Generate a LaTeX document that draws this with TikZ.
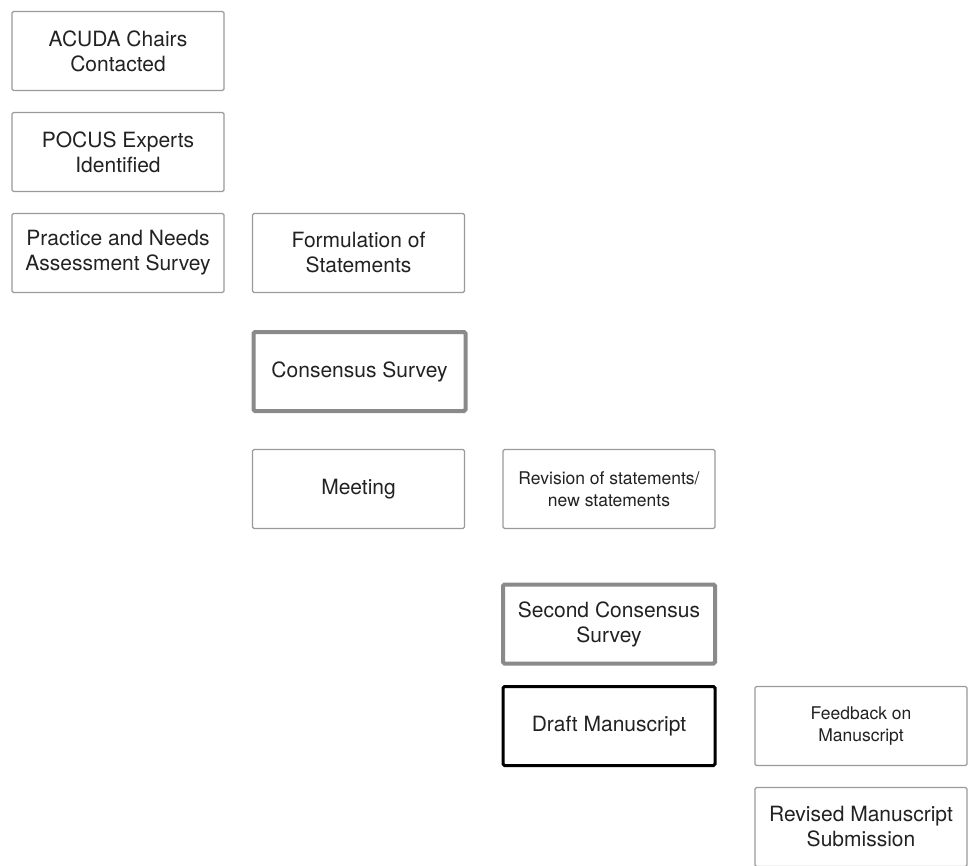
\documentclass[tikz,border=0pt]{standalone}
\usepackage{fontspec}
\setmainfont{TeX Gyre Heros}
\definecolor{thin}{HTML}{9A9A9A}
\definecolor{thick}{HTML}{8A8A8A}
\definecolor{txt}{HTML}{222222}
\begin{document}
\begin{tikzpicture}[x=1pt,y=-1pt,
  box/.style={draw=thin, line width=1.3pt, rounded corners=1.5pt, fill=white,
    minimum width=212pt, minimum height=79pt, anchor=north west, align=center,
    inner sep=0pt, outer sep=0pt, text=txt, font=\fontsize{21}{25}\selectfont},
  smalltxt/.style={font=\fontsize{17.5}{22}\selectfont},
  graybold/.style={draw=thick, line width=4pt},
  blackbold/.style={draw=black, line width=3pt}]
\useasboundingbox (0,0) rectangle (968,866);
\node[box] (acuda) at (12,11.5) {ACUDA Chairs\\Contacted};
\node[box] (pocus) at (12,112.5) {POCUS Experts\\Identified};
\node[box] (pnas) at (12,213.5) {Practice and Needs\\Assessment Survey};
\node[box] (form) at (252.5,213.5) {Formulation of\\Statements};
\node[box,graybold] (cons) at (253.5,332) {Consensus Survey};
\node[box] (meet) at (252.5,449.5) {Meeting};
\node[box,smalltxt] (rev) at (503,449.5) {Revision of statements/\\new statements};
\node[box,graybold] (second) at (503,584.5) {Second Consensus\\Survey};
\node[box,blackbold] (draft) at (503,686.5) {Draft Manuscript};
\node[box,smalltxt] (feed) at (755,686.5) {Feedback on\\Manuscript};
\node[box] (revised) at (755,787.5) {Revised Manuscript\\Submission};
\end{tikzpicture}
\end{document}
